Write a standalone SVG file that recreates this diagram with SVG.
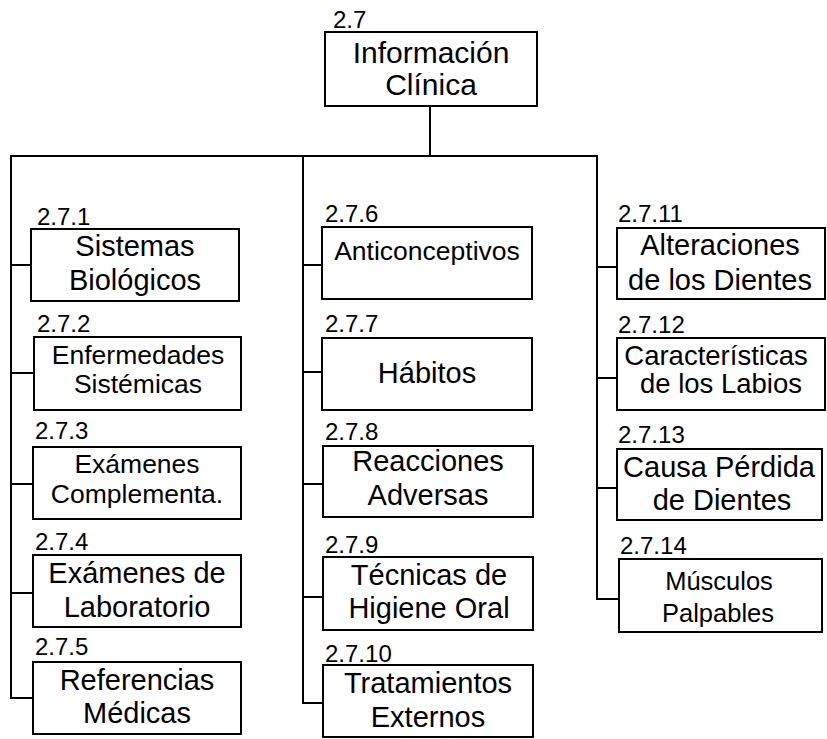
<svg xmlns="http://www.w3.org/2000/svg" width="827" height="739" viewBox="0 0 827 739">
<style>
  .box { fill: #fff; stroke: #000; stroke-width: 2; }
  .conn line { stroke: #000; stroke-width: 2; }
  text { font-family: "Liberation Sans", Arial, sans-serif; fill: #000; }
  .num { font-size: 24px; }
  .t { text-anchor: middle; font-size: 29px; }
  .s { text-anchor: middle; font-size: 26.5px; }
</style>
<rect width="827" height="739" fill="#fff"/>
<g id="connectors" class="conn">
  <line x1="430" y1="106" x2="430" y2="156"/>
  <line x1="10" y1="156" x2="598" y2="156"/>
  <line x1="11" y1="155" x2="11" y2="699"/>
  <line x1="10" y1="265" x2="31" y2="265"/>
  <line x1="10" y1="373" x2="34" y2="373"/>
  <line x1="10" y1="484" x2="33" y2="484"/>
  <line x1="10" y1="593" x2="33" y2="593"/>
  <line x1="10" y1="698" x2="33" y2="698"/>
  <line x1="303" y1="155" x2="303" y2="704"/>
  <line x1="302" y1="265" x2="322" y2="265"/>
  <line x1="302" y1="372" x2="322" y2="372"/>
  <line x1="302" y1="484" x2="323" y2="484"/>
  <line x1="302" y1="597" x2="323" y2="597"/>
  <line x1="302" y1="703" x2="323" y2="703"/>
  <line x1="597" y1="155" x2="597" y2="600"/>
  <line x1="596" y1="267" x2="617" y2="267"/>
  <line x1="596" y1="378" x2="617" y2="378"/>
  <line x1="596" y1="488" x2="617" y2="488"/>
  <line x1="596" y1="599" x2="619" y2="599"/>
</g>
<g id="n2_7">
  <text class="num" x="333" y="28">2.7</text>
  <rect class="box" x="325" y="32" width="212" height="74"/>
  <text class="t" x="431" y="63" style="font-size:30px">Información</text>
  <text class="t" x="431" y="95" style="font-size:30px">Clínica</text>
</g>
<g id="n2_7_1">
  <text class="num" x="37" y="225">2.7.1</text>
  <rect class="box" x="31" y="229" width="208" height="72"/>
  <text class="t" x="135" y="256">Sistemas</text>
  <text class="t" x="135" y="290">Biológicos</text>
</g>
<g id="n2_7_2">
  <text class="num" x="37" y="332">2.7.2</text>
  <rect class="box" x="34" y="337" width="207" height="73"/>
  <text class="s" x="138" y="364">Enfermedades</text>
  <text class="s" x="138" y="393">Sistémicas</text>
</g>
<g id="n2_7_3">
  <text class="num" x="35" y="439">2.7.3</text>
  <rect class="box" x="33" y="447" width="208" height="72"/>
  <text class="s" x="137" y="473">Exámenes</text>
  <text class="s" x="137" y="503">Complementa.</text>
</g>
<g id="n2_7_4">
  <text class="num" x="35" y="550">2.7.4</text>
  <rect class="box" x="33" y="555" width="208" height="72"/>
  <text class="t" x="137" y="583">Exámenes de</text>
  <text class="t" x="137" y="617">Laboratorio</text>
</g>
<g id="n2_7_5">
  <text class="num" x="35" y="655">2.7.5</text>
  <rect class="box" x="33" y="662" width="208" height="72"/>
  <text class="t" x="137" y="690">Referencias</text>
  <text class="t" x="137" y="723">Médicas</text>
</g>
<g id="n2_7_6">
  <text class="num" x="325" y="222">2.7.6</text>
  <rect class="box" x="322" y="227" width="210" height="72"/>
  <text class="s" x="427" y="260">Anticonceptivos</text>
</g>
<g id="n2_7_7">
  <text class="num" x="325" y="332">2.7.7</text>
  <rect class="box" x="322" y="338" width="210" height="72"/>
  <text class="t" x="427" y="383">Hábitos</text>
</g>
<g id="n2_7_8">
  <text class="num" x="325" y="440">2.7.8</text>
  <rect class="box" x="323" y="446" width="210" height="71"/>
  <text class="t" x="428" y="471">Reacciones</text>
  <text class="t" x="428" y="505">Adversas</text>
</g>
<g id="n2_7_9">
  <text class="num" x="325" y="553">2.7.9</text>
  <rect class="box" x="323" y="557" width="210" height="73"/>
  <text class="t" x="429" y="585">Técnicas de</text>
  <text class="t" x="429" y="618">Higiene Oral</text>
</g>
<g id="n2_7_10">
  <text class="num" x="325" y="662">2.7.10</text>
  <rect class="box" x="323" y="665" width="210" height="72"/>
  <text class="t" x="428" y="693">Tratamientos</text>
  <text class="t" x="428" y="727">Externos</text>
</g>
<g id="n2_7_11">
  <text class="num" x="618" y="222">2.7.11</text>
  <rect class="box" x="617" y="228" width="208" height="71"/>
  <text class="t" x="720" y="255">Alteraciones</text>
  <text class="t" x="720" y="290">de los Dientes</text>
</g>
<g id="n2_7_12">
  <text class="num" x="618" y="333">2.7.12</text>
  <rect class="box" x="617" y="338" width="208" height="72"/>
  <text class="t" x="716" y="365" style="font-size:27.5px">Características</text>
  <text class="t" x="721" y="393" style="font-size:27.5px">de los Labios</text>
</g>
<g id="n2_7_13">
  <text class="num" x="618" y="443">2.7.13</text>
  <rect class="box" x="617" y="449" width="205" height="71"/>
  <text class="t" x="719" y="477">Causa Pérdida</text>
  <text class="t" x="722" y="510">de Dientes</text>
</g>
<g id="n2_7_14">
  <text class="num" x="620" y="554">2.7.14</text>
  <rect class="box" x="619" y="559" width="203" height="73"/>
  <text class="t" x="719" y="590" style="font-size:25.5px">Músculos</text>
  <text class="t" x="718" y="622" style="font-size:25.5px">Palpables</text>
</g>
</svg>
